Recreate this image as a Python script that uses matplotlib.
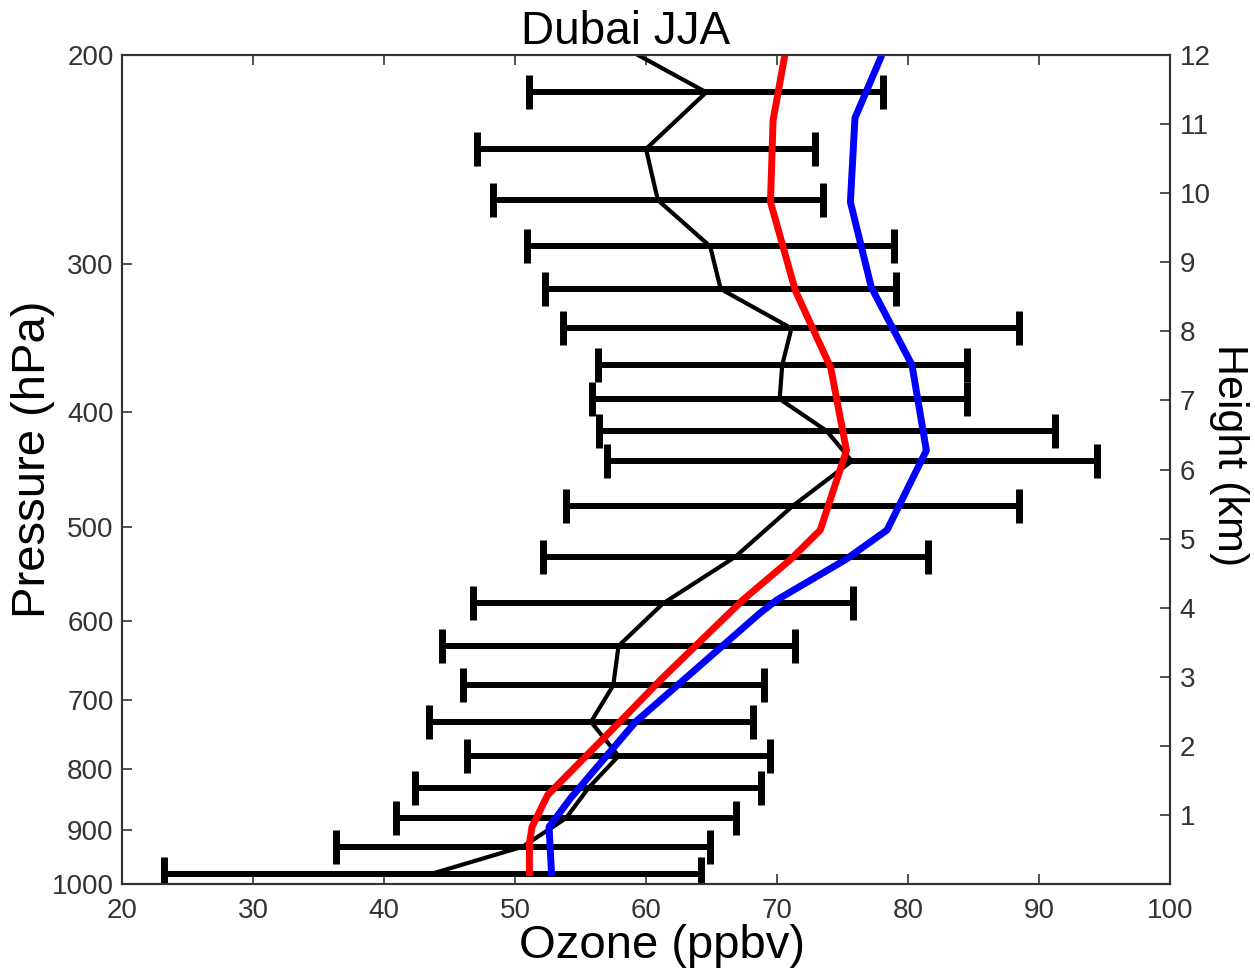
import numpy as np
import matplotlib
matplotlib.use('Agg')
import matplotlib.pyplot as plt
from matplotlib.ticker import NullLocator

plt.rcParams['font.family'] = ['Liberation Sans', 'DejaVu Sans']

# sonde mean and spread (ppbv) at each pressure level (hPa)
p_obs = [190, 215, 240, 265, 290, 315, 340, 365, 390, 415, 440,
         480, 530, 580, 630, 680, 730, 780, 830, 880, 930, 980]
o3_mean = [55.7, 64.6, 60.0, 60.9, 64.9, 65.7, 71.1, 70.4, 70.2, 73.8, 75.7,
           71.2, 66.8, 61.3, 57.9, 57.5, 55.8, 57.9, 55.6, 53.9, 50.6, 43.7]
o3_std = [13.0, 13.5, 12.9, 12.6, 14.0, 13.4, 17.4, 14.1, 14.3, 17.4, 18.7,
          17.3, 14.7, 14.5, 13.5, 11.5, 12.4, 11.6, 13.2, 13.0, 14.3, 20.5]

# model profiles
p_red = [200, 227, 266, 316, 367, 431, 503, 533, 576, 673, 730, 841, 895, 924, 985]
o3_red = [70.6, 69.7, 69.5, 71.4, 74.1, 75.3, 73.3, 71.0, 67.4, 61.1, 58.0,
          52.5, 51.3, 51.1, 51.1]

p_blue = [200, 226, 266, 314, 365, 431, 503, 533, 576, 591, 686, 730, 845, 895, 985]
o3_blue = [78.0, 75.95, 75.6, 77.2, 80.3, 81.4, 78.4, 75.2, 70.0, 68.7, 62.0,
           59.2, 54.3, 52.6, 52.8]

p_ticks = [200, 300, 400, 500, 600, 700, 800, 900, 1000]
x_ticks = [20, 30, 40, 50, 60, 70, 80, 90, 100]
km_ticks = list(range(1, 13))

fig = plt.figure(figsize=(12.55, 9.76), dpi=100)
ax = fig.add_axes([0.0972, 0.0943, 0.8351, 0.8493])

ax.errorbar(o3_mean, p_obs, xerr=o3_std, fmt='none', ecolor='black',
            elinewidth=4.3, capsize=12, capthick=5, zorder=2)
ax.plot(o3_mean, p_obs, color='black', lw=3, zorder=3)
ax.plot(o3_red, p_red, color='#ff0000', lw=5, solid_capstyle='butt', zorder=4)
ax.plot(o3_blue, p_blue, color='#0000ff', lw=5, solid_capstyle='butt', zorder=5)

ax.set_yscale('log')
ax.set_ylim(1000, 200)
ax.set_xlim(20, 100)
ax.set_yticks(p_ticks)
ax.set_yticklabels([str(p) for p in p_ticks])
ax.yaxis.set_minor_locator(NullLocator())
ax.set_xticks(x_ticks)

ax.tick_params(axis='both', direction='in', length=7, width=1.2,
               labelsize=20, labelcolor='#333333', colors='#333333')
ax.tick_params(axis='x', top=True, pad=10)
ax.tick_params(axis='y', right=False, pad=6)
for s in ax.spines.values():
    s.set_linewidth(1.5)
    s.set_color('#333333')

ax2 = ax.twinx()
ax2.set_ylim(0, 12)
ax2.set_yticks(km_ticks)
ax2.tick_params(axis='y', direction='in', length=7, width=1.2, pad=7,
                labelsize=20, labelcolor='#333333', colors='#333333')
for s in ax2.spines.values():
    s.set_linewidth(1.5)
    s.set_color('#333333')

# axis titles placed as in the original figure
fig.text(626 / 1255, 1 - 32 / 976, 'Dubai JJA', fontsize=33,
         ha='center', va='center')
fig.text(662 / 1255, 1 - 946 / 976, 'Ozone (ppbv)', fontsize=34,
         ha='center', va='center')
fig.text(33 / 1255, 1 - 459 / 976, 'Pressure (hPa)', fontsize=34,
         rotation=90, ha='center', va='center')
fig.text(1229 / 1255, 1 - 455 / 976, 'Height (km)', fontsize=31,
         rotation=270, ha='center', va='center')

fig.savefig('out.png', dpi=100)
